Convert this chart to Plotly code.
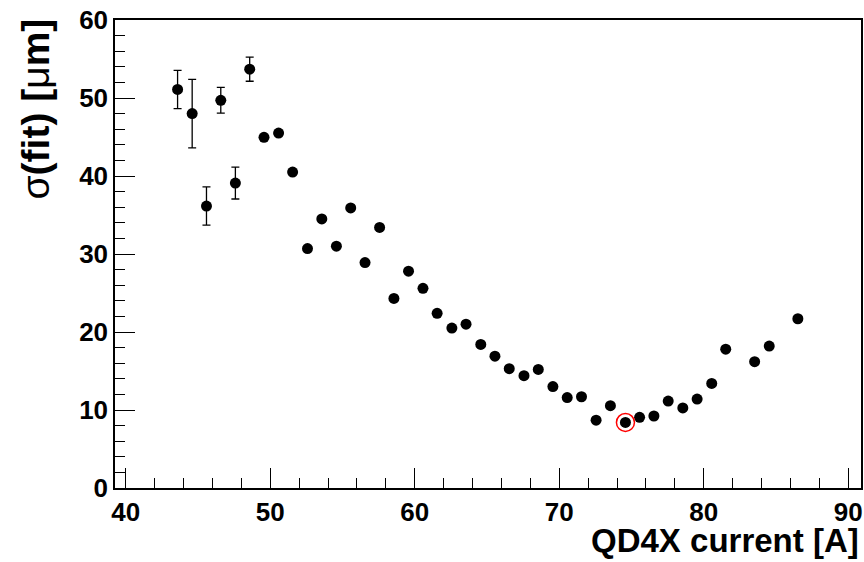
import plotly.graph_objects as go

# Data
current_A = [43.59, 44.60, 45.59, 46.58, 47.59, 48.58, 49.57, 50.58, 51.55, 52.58,
             53.57, 54.58, 55.57, 56.56, 57.57, 58.56, 59.57, 60.57, 61.55, 62.57,
             63.55, 64.57, 65.55, 66.54, 67.56, 68.55, 69.56, 70.55, 71.54, 72.55,
             73.54, 74.58, 75.56, 76.55, 77.54, 78.55, 79.54, 80.55, 81.52, 83.52,
             84.53, 86.51]
sigma_um = [51.1, 48.0, 36.15, 49.7, 39.1, 53.7, 44.96, 45.5, 40.5, 30.7,
            34.5, 31.0, 35.9, 28.9, 33.4, 24.3, 27.8, 25.6, 22.4, 20.5,
            21.0, 18.4, 16.9, 15.3, 14.4, 15.2, 13.0, 11.6, 11.7, 8.7,
            10.55, 8.4, 9.06, 9.23, 11.15, 10.26, 11.4, 13.4, 17.8, 16.2,
            18.2, 21.7]
sigma_err = [2.45, 4.4, 2.45, 1.65, 2.05, 1.55] + [0.0] * 36

best_current = [74.58]
best_sigma = [8.4]

x_title = "QD4X current [A]"
y_title = ("<span style='font-weight:normal'>σ</span>(fit) "
           "[<span style='font-weight:normal'>μ</span>m]")

FONT = "Liberation Sans"

fig = go.Figure()
fig.add_trace(go.Scatter(
    x=current_A, y=sigma_um, mode="markers",
    marker=dict(color="black", size=11, symbol="circle"),
    error_y=dict(type="data", array=sigma_err, visible=True,
                 color="black", thickness=1.3, width=4),
    showlegend=False,
))
fig.add_trace(go.Scatter(
    x=best_current, y=best_sigma, mode="markers",
    marker=dict(symbol="circle-open", size=18, color="red",
                line=dict(color="red", width=1.5)),
    showlegend=False,
))

axis_common = dict(
    showgrid=False, zeroline=False,
    showline=True, linecolor="black", linewidth=1.5, mirror=True,
    ticks="inside", ticklen=20, tickwidth=1, tickcolor="black",
    tickfont=dict(family=FONT, size=26, color="black", weight="bold"),
)

fig.update_xaxes(
    range=[39.26, 90.88], tick0=0, dtick=10,
    minor=dict(dtick=2, ticks="inside", ticklen=10, tickcolor="black", tickwidth=1),
    **axis_common,
)
fig.update_yaxes(
    range=[0, 60], tick0=0, dtick=10,
    minor=dict(dtick=2, ticks="inside", ticklen=10, tickcolor="black", tickwidth=1),
    **axis_common,
)

fig.add_annotation(
    text=x_title, xref="paper", yref="paper", x=1.0, y=0.0,
    xanchor="right", yanchor="top", yshift=-32, showarrow=False,
    font=dict(family=FONT, size=33, color="black", weight="bold"),
)
fig.add_annotation(
    text=y_title, xref="paper", yref="paper", x=0.0, y=1.0,
    xanchor="center", yanchor="top", xshift=-80, yshift=3, showarrow=False,
    textangle=-90,
    font=dict(family=FONT, size=39, color="black", weight="bold"),
)

fig.update_layout(
    width=864, height=562,
    margin=dict(l=115, r=1, t=20, b=74),
    paper_bgcolor="white", plot_bgcolor="white",
)

fig.write_html("out.html")
